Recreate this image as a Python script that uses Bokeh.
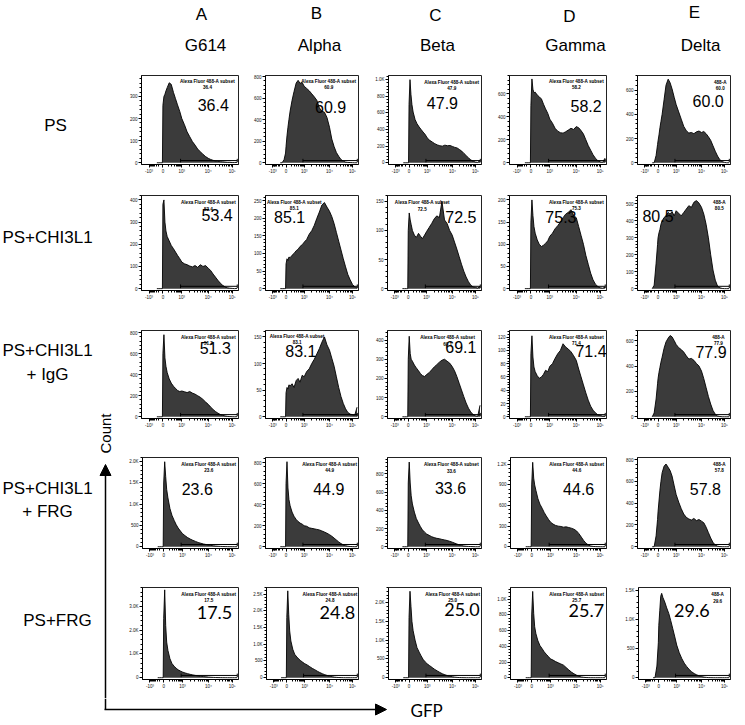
import math
from bokeh.plotting import figure
from bokeh.layouts import row, column
from bokeh.models import FixedTicker, Range1d, Label, Arrow, NormalHead
from bokeh.core.properties import value
from bokeh.embed import file_html
from bokeh.resources import INLINE

# ------------------------------------------------------------------ data
variant_letters = ["A", "B", "C", "D", "E"]
variants = ["G614", "Alpha", "Beta", "Gamma", "Delta"]
conditions = ["PS", "PS+CHI3L1", "PS+CHI3L1\n+ IgG", "PS+CHI3L1\n+ FRG", "PS+FRG"]

# GFP axis (biexponential display units): tick positions and labels
gfp_tick_pos = [-0.55, 0, 0.75, 1.8, 2.75]
gfp_tick_labels = ["-10\u00b3", "0", "10\u00b3", "10\u2074", "10\u2075"]

# histogram bin centres on the GFP display axis
gfp_bins = [-0.24, -0.16, -0.08, -0.02, 0, 0.04, 0.08, 0.12, 0.17, 0.25, 0.33, 0.42, 0.5,
            0.58, 0.67, 0.75, 0.855, 0.96, 1.065, 1.17, 1.275, 1.38, 1.485, 1.59, 1.695,
            1.8, 1.895, 1.99, 2.085, 2.18, 2.275, 2.37, 2.465, 2.56, 2.655, 2.75, 2.845, 2.94]

# gated "Alexa Fluor 488-A subset" (GFP+) percentages
pct_ps = [36.4, 60.9, 47.9, 58.2, 60.0]
pct_ps_chi3l1 = [53.4, 85.1, 72.5, 75.3, 80.5]
pct_ps_chi3l1_igg = [51.3, 83.1, 69.1, 71.4, 77.9]
pct_ps_chi3l1_frg = [23.6, 44.9, 33.6, 44.6, 57.8]
pct_ps_frg = [17.5, 24.8, 25.0, 25.7, 29.6]

# histogram counts, one list per variant (G614, Alpha, Beta, Gamma, Delta)
counts_ps = [
    [0, 0, 0, 0, 260, 300, 310, 325, 340, 362, 355, 318, 290, 262, 232, 200, 172, 140, 118,
     96, 80, 62, 50, 38, 28, 20, 15, 11, 8, 6, 5, 4, 3, 2, 2, 1, 1, 2],
    [0, 0, 30, 90, 150, 250, 330, 400, 480, 580, 660, 740, 765, 738, 745, 710, 690, 668, 640,
     612, 580, 510, 478, 470, 420, 330, 220, 150, 95, 60, 30, 15, 6, 3, 2, 1, 0, 0],
    [0, 0, 0, 0, 700, 1000, 820, 700, 610, 520, 470, 430, 400, 370, 340, 300, 270, 250, 230,
     215, 205, 200, 212, 205, 208, 196, 185, 178, 160, 140, 112, 85, 58, 34, 18, 8, 4, 30],
    [0, 0, 0, 0, 500, 730, 640, 610, 615, 590, 575, 555, 510, 470, 430, 380, 345, 300, 275,
     262, 258, 270, 285, 300, 290, 315, 305, 280, 250, 200, 150, 110, 70, 40, 18, 8, 3, 40],
    [0, 0, 60, 150, 180, 230, 290, 340, 400, 520, 640, 690, 660, 610, 540, 480, 420, 360, 300,
     265, 245, 250, 240, 255, 262, 250, 258, 240, 215, 185, 140, 95, 55, 25, 10, 3, 0, 0],
]
counts_ps_chi3l1 = [
    [0, 0, 0, 0, 380, 400, 300, 260, 235, 215, 195, 180, 165, 150, 135, 120, 112, 108, 102,
     98, 104, 96, 108, 100, 104, 92, 82, 66, 52, 38, 25, 15, 8, 4, 2, 1, 0, 1],
    [0, 0, 0, 0, 70, 85, 80, 90, 88, 95, 100, 108, 112, 120, 125, 132, 140, 155, 165,
     180, 200, 218, 238, 245, 232, 220, 205, 185, 160, 135, 110, 85, 62, 40, 25, 12, 5, 2],
    [0, 0, 0, 0, 100, 130, 118, 110, 100, 92, 88, 95, 90, 86, 92, 98, 105, 112, 120,
     125, 122, 150, 118, 112, 100, 92, 80, 68, 55, 42, 30, 20, 12, 6, 3, 2, 1, 4],
    [0, 0, 0, 0, 150, 200, 165, 140, 125, 110, 100, 95, 98, 102, 108, 118, 125, 135, 142,
     150, 160, 168, 172, 178, 165, 160, 140, 120, 100, 75, 55, 35, 20, 10, 5, 2, 1, 3],
    [0, 20, 150, 260, 300, 330, 350, 380, 400, 420, 430, 450, 440, 455, 430, 460, 445, 430, 450,
     470, 490, 480, 510, 520, 505, 480, 440, 380, 300, 200, 110, 50, 15, 5, 1, 0, 0, 0],
]
counts_ps_chi3l1_igg = [
    [0, 0, 0, 0, 600, 780, 560, 480, 420, 360, 320, 290, 270, 250, 240, 245, 238, 230, 240,
     225, 215, 200, 185, 165, 140, 118, 92, 70, 50, 35, 22, 14, 8, 4, 2, 1, 0, 1],
    [0, 0, 0, 0, 45, 55, 52, 60, 58, 62, 55, 68, 72, 65, 78, 75, 85, 90, 100,
     108, 118, 128, 140, 150, 135, 125, 110, 95, 75, 55, 38, 25, 15, 8, 5, 4, 3, 18],
    [0, 0, 0, 0, 300, 420, 330, 300, 290, 270, 255, 240, 225, 215, 210, 220, 230, 245, 260,
     272, 285, 295, 300, 290, 280, 262, 240, 210, 175, 140, 105, 72, 45, 25, 12, 5, 2, 60],
    [0, 0, 0, 0, 95, 122, 90, 75, 68, 62, 58, 60, 64, 70, 68, 76, 80, 88, 95,
     100, 110, 105, 102, 98, 92, 85, 72, 60, 48, 36, 25, 16, 10, 6, 3, 2, 1, 1],
    [0, 30, 140, 260, 300, 350, 390, 430, 470, 540, 590, 620, 640, 630, 600, 570, 545, 530, 510,
     480, 455, 460, 445, 420, 400, 360, 300, 230, 160, 100, 50, 20, 6, 2, 0, 0, 0, 0],
]
counts_ps_chi3l1_frg = [
    [0, 0, 0, 0, 1500, 2000, 1650, 1350, 1150, 900, 740, 620, 520, 440, 370, 310, 260, 215, 180,
     150, 125, 100, 82, 65, 52, 40, 30, 22, 16, 11, 7, 5, 3, 2, 1, 1, 0, 0],
    [0, 0, 0, 0, 600, 810, 560, 450, 390, 330, 290, 260, 240, 225, 215, 200, 195, 180, 175,
     170, 165, 160, 150, 140, 128, 115, 100, 82, 64, 46, 30, 18, 10, 5, 2, 1, 0, 1],
    [0, 0, 0, 0, 700, 930, 700, 560, 470, 380, 310, 260, 220, 185, 160, 140, 125, 110, 100,
     92, 88, 80, 75, 68, 60, 50, 40, 30, 20, 13, 8, 5, 3, 2, 1, 0, 0, 0],
    [0, 0, 0, 0, 900, 1230, 1000, 900, 820, 700, 620, 560, 500, 450, 400, 360, 330, 310, 300,
     295, 285, 290, 280, 270, 255, 230, 190, 140, 90, 50, 25, 10, 4, 2, 1, 0, 0, 0],
    [0, 0, 100, 250, 320, 420, 520, 600, 680, 740, 760, 730, 700, 650, 560, 480, 410, 350, 300,
     270, 255, 245, 260, 240, 250, 235, 220, 180, 130, 80, 40, 15, 5, 1, 0, 0, 0, 0],
]
counts_ps_frg = [
    [0, 0, 0, 0, 2500, 3700, 2200, 1500, 1150, 800, 600, 480, 400, 330, 280, 240, 200, 170, 140,
     115, 95, 78, 62, 48, 36, 26, 18, 12, 8, 5, 3, 2, 1, 1, 0, 0, 0, 0],
    [0, 0, 0, 0, 1800, 2600, 1900, 1400, 1100, 850, 700, 620, 560, 510, 460, 420, 380, 330, 280,
     240, 195, 155, 120, 90, 65, 45, 30, 18, 10, 5, 3, 1, 0, 0, 0, 0, 0, 0],
    [0, 0, 0, 0, 1600, 2300, 1900, 1500, 1250, 1000, 800, 680, 580, 490, 420, 370, 320, 270, 220,
     180, 140, 105, 78, 55, 38, 25, 15, 8, 4, 2, 1, 0, 0, 0, 0, 0, 0, 0],
    [0, 0, 0, 0, 800, 1100, 820, 650, 560, 470, 410, 370, 330, 300, 270, 240, 225, 205, 190,
     175, 160, 130, 100, 72, 50, 32, 18, 10, 5, 2, 1, 0, 0, 0, 0, 0, 0, 0],
    [0, 0, 200, 600, 900, 1150, 1400, 1450, 1380, 1300, 1200, 1100, 980, 850, 700, 560, 430, 330, 250,
     190, 140, 100, 70, 48, 30, 18, 10, 5, 2, 1, 0, 0, 0, 0, 0, 0, 0, 0],
]

# y-axis (Count) top of scale and tick step for each panel
count_ymax = [[395, 810, 1050, 760, 720],
              [420, 265, 160, 210, 550],
              [820, 162, 450, 130, 680],
              [2100, 850, 980, 1300, 820],
              [3800, 2700, 2400, 1150, 1550]]
count_step = [[100, 200, 200, 200, 200],
              [100, 50, 50, 50, 100],
              [200, 50, 100, 20, 200],
              [500, 200, 200, 300, 200],
              [1000, 500, 500, 200, 500]]

# GFP+ gate limits (display units)
gate_lo, gate_hi = 0.7, 2.95

all_counts = [counts_ps, counts_ps_chi3l1, counts_ps_chi3l1_igg, counts_ps_chi3l1_frg, counts_ps_frg]
all_pct = [pct_ps, pct_ps_chi3l1, pct_ps_chi3l1_igg, pct_ps_chi3l1_frg, pct_ps_frg]

# ------------------------------------------------------------------ layout (page pixels)
X_LO, X_HI = -0.85, 3.0
LEFT_W = 126
col_cells = [(LEFT_W, 250), (250, 372), (372, 494), (494, 622), (622, 744)]
row_cells = [(60, 186), (186, 314), (314, 442), (442, 570), (570, 698)]
col_x = [(141, 238), (264, 358), (384, 481), (507, 606), (635, 730)]
row_y = [
    [(69, 168), (69, 166), (75, 167), (69, 167), (70, 164)],
    [(195, 290), (190, 290), (195, 290), (190, 290), (193, 290)],
    [(325, 418), (322, 418), (330, 418), (328, 418), (327, 418)],
    [(455, 548), (455, 548), (457, 548), (455, 548), (455, 548)],
    [(584, 679), (584, 680), (587, 683), (585, 684), (587, 679)],
]
# big percentage: (fraction across frame, page y)
num_pos = [
    [(0.74, 102), (0.70, 103), (0.58, 103), (0.79, 103), (0.76, 97)],
    [(0.78, 214), (0.26, 213), (0.78, 216), (0.53, 213), (0.22, 214)],
    [(0.76, 344), (0.38, 344), (0.78, 346), (0.84, 349), (0.79, 349)],
    [(0.57, 487), (0.68, 487), (0.67, 487), (0.71, 487), (0.73, 487)],
    [(0.75, 610), (0.77, 610), (0.79, 610), (0.79, 610), (0.58, 610)],
]
# small gate label: fraction across frame
gate_lab_fx = [
    [0.68, 0.68, 0.68, 0.69, 0.89],
    [0.69, 0.31, 0.37, 0.69, 0.88],
    [0.69, 0.34, 0.64, 0.69, 0.87],
    [0.69, 0.69, 0.68, 0.69, 0.88],
    [0.69, 0.69, 0.69, 0.69, 0.86],
]

FONT = "Liberation Sans"
FILL = "#3b3b3b"


def kfmt(v):
    return f"{v/1000:.1f}K" if v >= 1000 else str(int(v))


def make_panel(r, c):
    cl, cr = col_cells[c]
    rt, rb = row_cells[r]
    fl, fr = col_x[c]
    ft, fb = row_y[r][c]
    ymax = count_ymax[r][c]
    step = count_step[r][c]
    ylo = -0.02 * ymax
    p = figure(width=cr - cl, height=rb - rt, title=None,
               x_range=Range1d(X_LO, X_HI), y_range=Range1d(ylo, ymax),
               min_border_left=fl - cl, min_border_right=cr - fr,
               min_border_top=ft - rt, min_border_bottom=rb - fb,
               toolbar_location=None, output_backend="svg")
    p.xgrid.visible = False
    p.ygrid.visible = False
    p.outline_line_color = "#222222"
    p.outline_line_width = 1
    p.background_fill_color = "white"

    counts = all_counts[r][c]
    p.varea(x=gfp_bins, y1=[0] * len(counts), y2=counts, fill_color=FILL)
    p.line(x=gfp_bins, y=counts, line_color="black", line_width=0.9)

    # GFP+ gate
    gy = 0.025 * ymax
    p.line(x=[gate_lo, gate_hi], y=[gy, gy], line_color="black", line_width=1)
    p.segment(x0=[gate_lo, gate_hi], y0=[gy - 0.02 * ymax] * 2, x1=[gate_lo, gate_hi],
              y1=[gy + 0.02 * ymax] * 2, line_color="black", line_width=1)

    # axes
    minor_x = []
    for k in range(2, 10):
        lg = math.log10(k)
        minor_x += [-0.55 * lg, 0.75 * lg, 0.75 + 1.05 * lg, 1.8 + 0.95 * lg, 2.75 + 0.95 * lg]
    minor_x = [m for m in minor_x if X_LO < m < X_HI]
    p.xaxis.ticker = FixedTicker(ticks=gfp_tick_pos, minor_ticks=minor_x)
    p.xaxis.major_label_overrides = {t: l for t, l in zip(gfp_tick_pos, gfp_tick_labels)}
    yt = list(range(0, int(ymax) + 1, step))
    ym = [i * step / 5 for i in range(0, int(ymax / (step / 5)) + 1)]
    p.yaxis.ticker = FixedTicker(ticks=yt, minor_ticks=ym)
    p.yaxis.major_label_overrides = {t: kfmt(t) for t in yt}
    for ax in (p.xaxis[0], p.yaxis[0]):
        ax.major_label_text_font_size = "4.5px"
        ax.major_label_text_font = FONT
        ax.major_label_text_color = "#111111"
        ax.major_tick_in = 0
        ax.major_tick_out = 3
        ax.minor_tick_in = 0
        ax.minor_tick_out = 2
        ax.axis_line_color = "black"
        ax.major_tick_line_color = "black"
        ax.minor_tick_line_color = "black"
        ax.major_label_standoff = 1

    def to_data(px, py):
        x = X_LO + (px - fl) / (fr - fl) * (X_HI - X_LO)
        y = ymax - (py - ft) / (fb - ft) * (ymax - ylo)
        return x, y

    # big percentage
    fx, py = num_pos[r][c]
    nx, ny = to_data(fl + fx * (fr - fl), py)
    pct = all_pct[r][c]
    big_font = "Lato" if r == 4 else FONT
    big_size = "18px" if r == 4 else "16px"
    p.add_layout(Label(x=nx, y=ny, text=f"{pct:.1f}", text_align="center",
                       text_baseline="middle", text_font=big_font,
                       text_font_size=big_size, text_color="black"))

    # small gate name + value
    name = "488-A" if c == 4 else "Alexa Fluor 488-A subset"
    sx, sy1 = to_data(fl + gate_lab_fx[r][c] * (fr - fl), ft + 7)
    _, sy2 = to_data(fl, ft + 13)
    for txt, yy in ((name, sy1), (f"{pct:.1f}", sy2)):
        p.add_layout(Label(x=sx, y=yy, text=txt, text_align="center", text_baseline="middle",
                           text_font=FONT, text_font_size="4.6px", text_font_style="bold",
                           text_color="black"))
    return p


def canvas(w, h, x0, x1, y0, y1):
    p = figure(width=w, height=h, title=None, x_range=Range1d(x0, x1), y_range=Range1d(y1, y0),
               toolbar_location=None, output_backend="svg", min_border=0,
               x_axis_location=None, y_axis_location=None)
    p.outline_line_color = None
    p.xgrid.visible = False
    p.ygrid.visible = False
    return p


# header
header = canvas(744, 60, 0, 744, 0, 60)
letter_xy = [(201, 14), (316, 13), (435, 15), (569, 16), (694, 12)]
name_xy = [(205, 45), (319, 45), (437, 45), (575, 45), (700, 45)]
header.text(x=[p[0] for p in letter_xy], y=[p[1] for p in letter_xy], text=variant_letters,
            text_align="center", text_baseline="middle", text_font=value(FONT),
            text_font_size="17px", text_color="black")
header.text(x=[p[0] for p in name_xy], y=[p[1] for p in name_xy], text=variants,
            text_align="center", text_baseline="middle", text_font=value(FONT),
            text_font_size="17px", text_color="black")

# left column: row labels + Count arrow
left = canvas(LEFT_W, 638, 0, LEFT_W, 60, 698)
label_centres = [[(55, 125)], [(47, 237)], [(47, 350), (47, 374)], [(47, 488), (47, 511)], [(57, 620)]]
lx, ly, lt = [], [], []
for cond, centres in zip(conditions, label_centres):
    for line, (x, y) in zip(cond.split("\n"), centres):
        lx.append(x)
        ly.append(y)
        lt.append(line)
left.text(x=lx, y=ly, text=lt, text_align="center", text_baseline="middle",
          text_font=value(FONT), text_font_size="17px", text_color="black")
left.add_layout(Arrow(end=NormalHead(size=11, fill_color="black", line_color="black"),
                      x_start=105, y_start=698, x_end=105, y_end=464,
                      line_color="black", line_width=1.5))
left.text(x=[105], y=[433], text=["Count"], angle=math.pi / 2, text_align="center",
          text_baseline="middle", text_font=value(FONT), text_font_size="15px", text_color="black")

# footer: GFP arrow
footer = canvas(744, 26, 0, 744, 698, 724)
footer.line(x=[105, 105], y=[698, 709], line_color="black", line_width=1.5)
footer.add_layout(Arrow(end=NormalHead(size=11, fill_color="black", line_color="black"),
                        x_start=104, y_start=709, x_end=386, y_end=709,
                        line_color="black", line_width=1.5))
footer.text(x=[410], y=[710], text=["GFP"], text_align="left", text_baseline="middle",
            text_font=value("Lato"), text_font_size="17px", text_color="black")

panel_rows = [row(*[make_panel(r, c) for c in range(5)], spacing=0) for r in range(5)]
body = row(left, column(*panel_rows, spacing=0), spacing=0)
layout = column(header, body, footer, spacing=0)

open("out.html", "w").write(file_html(layout, INLINE))
